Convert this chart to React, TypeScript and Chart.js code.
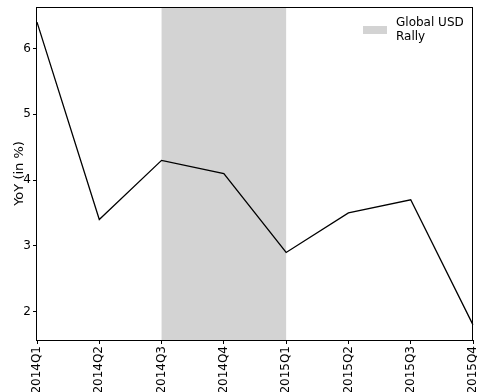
import React, { useEffect, useRef } from "react";
import { Chart, registerables } from "chart.js";

Chart.register(...registerables);

const quarters = ["2014Q1", "2014Q2", "2014Q3", "2014Q4", "2015Q1", "2015Q2", "2015Q3", "2015Q4"];
const yoyValues = [6.4, 3.4, 4.3, 4.1, 2.9, 3.5, 3.7, 1.8];
const yTicks = [2, 3, 4, 5, 6];
const rallyStart = "2014Q3";
const rallyEnd = "2015Q1";
const rallyLabel = ["Global USD", "Rally"];
const yAxisTitle = "YoY (in %)";

const FONT = "'DejaVu Sans', sans-serif";
const SHADE = "#d3d3d3";

export default function App() {
  const ref = useRef<HTMLCanvasElement | null>(null);

  useEffect(() => {
    document.body.style.margin = "0";
    const canvas = ref.current;
    if (!canvas) return;

    const dataMin = Math.min(...yoyValues);
    const dataMax = Math.max(...yoyValues);
    const pad = (dataMax - dataMin) * 0.05;

    const shadePlugin = {
      id: "shade",
      beforeDatasetsDraw(chart: any) {
        const { ctx, chartArea, scales } = chart;
        const x0 = scales.x.getPixelForValue(quarters.indexOf(rallyStart));
        const x1 = scales.x.getPixelForValue(quarters.indexOf(rallyEnd));
        ctx.save();
        ctx.fillStyle = SHADE;
        ctx.fillRect(x0, chartArea.top, x1 - x0, chartArea.bottom - chartArea.top);
        ctx.restore();
      },
      afterDraw(chart: any) {
        const { ctx, chartArea } = chart;
        ctx.save();
        // frame
        ctx.strokeStyle = "#000";
        ctx.lineWidth = 1;
        ctx.strokeRect(
          Math.round(chartArea.left) - 0.5,
          Math.round(chartArea.top) + 0.5,
          Math.round(chartArea.right - chartArea.left),
          Math.round(chartArea.bottom - chartArea.top)
        );
        // legend
        const px = chartArea.right - 110;
        const py = chartArea.top + 19;
        ctx.fillStyle = SHADE;
        ctx.fillRect(px, py, 24, 8);
        ctx.fillStyle = "#000";
        ctx.font = `12px ${FONT}`;
        ctx.textBaseline = "middle";
        ctx.textAlign = "left";
        const tx = chartArea.right - 77;
        rallyLabel.forEach((t, i) => {
          ctx.fillText(t, tx, py - 3 + i * 14);
        });
        ctx.restore();
      },
    };

    const chart = new Chart(canvas, {
      type: "line",
      data: {
        labels: quarters,
        datasets: [
          {
            label: "YoY",
            data: yoyValues,
            borderColor: "#000",
            borderWidth: 1.3,
            pointRadius: 0,
            tension: 0,
            fill: false,
          },
        ],
      },
      options: {
        animation: false,
        responsive: false,
        layout: { padding: { top: 7, right: 4, left: 0, bottom: 0 } },
        plugins: {
          legend: { display: false },
          tooltip: { enabled: false },
        },
        scales: {
          x: {
            type: "category",
            offset: false,
            border: { display: false },
            grid: {
              display: true,
              drawOnChartArea: false,
              drawTicks: true,
              tickLength: 4,
              color: "#000",
            },
            ticks: {
              autoSkip: false,
              minRotation: 90,
              maxRotation: 90,
              padding: 2,
              color: "#000",
              font: { family: FONT, size: 12 },
            },
            afterFit(scale: any) {
              scale.height = 52;
              scale.paddingLeft = 0;
              scale.paddingRight = 0;
            },
          },
          y: {
            type: "linear",
            min: dataMin - pad,
            max: dataMax + pad,
            border: { display: false },
            grid: {
              display: true,
              drawOnChartArea: false,
              drawTicks: true,
              tickLength: 4,
              color: "#000",
            },
            ticks: {
              padding: 2,
              color: "#000",
              font: { family: FONT, size: 12 },
            },
            afterBuildTicks(scale: any) {
              scale.ticks = yTicks.map((v) => ({ value: v }));
            },
            title: {
              display: true,
              text: yAxisTitle,
              color: "#000",
              font: { family: FONT, size: 13 },
              padding: { top: 12, bottom: 0 },
            },
            afterFit(scale: any) {
              scale.width = 37;
              scale.paddingTop = 0;
              scale.paddingBottom = 0;
            },
          },
        },
      },
      plugins: [shadePlugin],
    });

    return () => chart.destroy();
  }, []);

  return (
    <div style={{ width: 477, height: 392 }}>
      <canvas ref={ref} width={477} height={392} />
    </div>
  );
}
